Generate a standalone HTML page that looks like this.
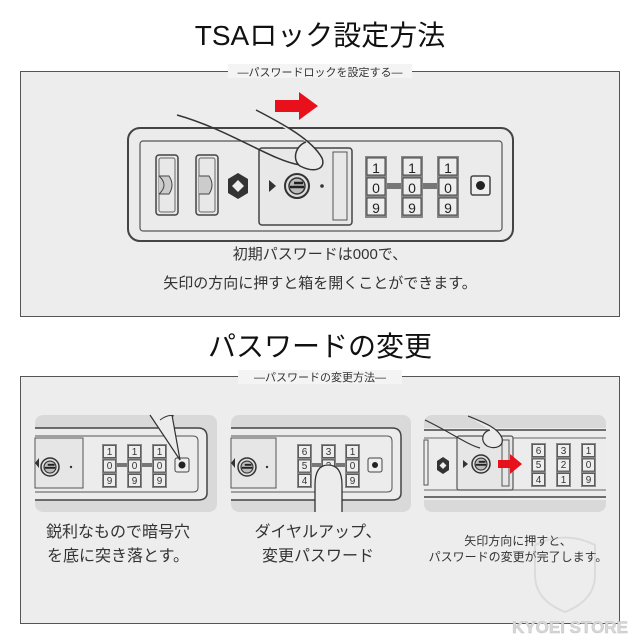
<!DOCTYPE html>
<html><head><meta charset="utf-8">
<style>
html,body{margin:0;padding:0;background:#fff;}
svg{display:block;}
text{font-family:"Liberation Sans","Noto Sans CJK JP",sans-serif;}
</style></head>
<body>
<svg width="640" height="640" viewBox="0 0 640 640" xmlns="http://www.w3.org/2000/svg">
<defs>
  <g id="wheel">
    <rect x="0" y="0" width="22" height="62" fill="#888"/>
    <rect x="2" y="2" width="18" height="17" fill="#eee" stroke="#444" stroke-width="1"/>
    <rect x="2" y="22" width="18" height="17" fill="#eee" stroke="#444" stroke-width="1"/>
    <rect x="2" y="42" width="18" height="17" fill="#eee" stroke="#444" stroke-width="1"/>
  </g>
  <g id="sw">
    <rect x="0" y="0" width="15" height="44" fill="#888"/>
    <rect x="1.5" y="1.5" width="12" height="12" fill="#eee" stroke="#444" stroke-width=".8"/>
    <rect x="1.5" y="16" width="12" height="12" fill="#eee" stroke="#444" stroke-width=".8"/>
    <rect x="1.5" y="30.5" width="12" height="12" fill="#eee" stroke="#444" stroke-width=".8"/>
  </g>
  <g id="key">
    <circle r="12" fill="#ddd" stroke="#333" stroke-width="2"/>
    <circle r="8" fill="#bbb" stroke="#333" stroke-width="1.5"/>
    <path d="M-7 1 h14 M-3 -3 h9" stroke="#222" stroke-width="2.5"/>
  </g>
</defs>

<rect width="640" height="640" fill="#fff"/>

<!-- Title 1 -->
<text x="320" y="45" font-size="28" text-anchor="middle" fill="#111">TSAロック設定方法</text>

<!-- Box 1 -->
<rect x="20.5" y="71.5" width="599" height="245" fill="#ededed" stroke="#555" stroke-width="1"/>
<rect x="228" y="64" width="184" height="14" fill="#f4f4f4"/>
<text x="320" y="76" font-size="11" text-anchor="middle" fill="#333">—パスワードロックを設定する—</text>

<!-- red arrow -->
<path d="M275 100 h24 v-8 l19 14 l-19 14 v-8 h-24z" fill="#e8111b"/>

<!-- lock -->
<rect x="128" y="128" width="385" height="113" rx="12" fill="#ebebeb" stroke="#444" stroke-width="2"/>
<rect x="140" y="141" width="362" height="90" rx="3" fill="none" stroke="#555" stroke-width="1.2"/>
<rect x="156" y="155" width="22" height="60" rx="3" fill="#e8e8e8" stroke="#444" stroke-width="1.5"/>
<rect x="159" y="158" width="16" height="54" rx="2" fill="none" stroke="#666" stroke-width="1"/>
<path d="M159 176 q10 9 0 18 M159 176 h10 q6 9 0 18 h-10" fill="#ccc" stroke="#444" stroke-width="1"/>
<rect x="196" y="155" width="22" height="60" rx="3" fill="#e8e8e8" stroke="#444" stroke-width="1.5"/>
<rect x="199" y="158" width="16" height="54" rx="2" fill="none" stroke="#666" stroke-width="1"/>
<path d="M199 176 h10 q6 9 0 18 h-10" fill="#ccc" stroke="#444" stroke-width="1"/>
<path d="M238 173 l10 6 v14 l-10 6 l-10 -6 v-14z" fill="#333"/>
<path d="M238 180 l6 6 l-6 6 l-6 -6z" fill="#eee"/>
<rect x="259" y="148" width="93" height="77" rx="3" fill="#e8e8e8" stroke="#444" stroke-width="1.5"/>
<rect x="333" y="152" width="14" height="68" fill="none" stroke="#555" stroke-width="1"/>
<path d="M269 180 l7 6 l-7 6z" fill="#333"/>
<use href="#key" x="297" y="186"/>
<circle cx="322" cy="186" r="1.8" fill="#333"/>
<!-- finger -->
<path d="M177 115 C230 130 270 160 300 165" fill="none" stroke="#333" stroke-width="1.5"/>
<path d="M256 110 C285 125 312 140 322 158 C326 168 316 174 300 166 C292 160 295 146 306 142" fill="#ebebeb" stroke="#333" stroke-width="1.5"/>
<!-- wheels -->
<rect x="385" y="183" width="18" height="6" fill="#777"/>
<rect x="421" y="183" width="18" height="6" fill="#777"/>
<use href="#wheel" x="365" y="156"/>
<use href="#wheel" x="401" y="156"/>
<use href="#wheel" x="437" y="156"/>
<g font-size="14" text-anchor="middle" fill="#222">
<text x="376" y="173">1</text><text x="376" y="193">0</text><text x="376" y="213">9</text>
<text x="412" y="173">1</text><text x="412" y="193">0</text><text x="412" y="213">9</text>
<text x="448" y="173">1</text><text x="448" y="193">0</text><text x="448" y="213">9</text>
</g>
<rect x="471" y="176" width="19" height="19" rx="2" fill="#eee" stroke="#444" stroke-width="1.5"/>
<circle cx="480.5" cy="185.5" r="4.5" fill="#222"/>

<text x="320" y="259" font-size="15" text-anchor="middle" fill="#333">初期パスワードは000で、</text>
<text x="320" y="288" font-size="15" text-anchor="middle" fill="#333">矢印の方向に押すと箱を開くことができます。</text>

<!-- Title 2 -->
<text x="320" y="356" font-size="28" text-anchor="middle" fill="#111">パスワードの変更</text>

<!-- Box 2 -->
<rect x="20.5" y="376.5" width="599" height="247" fill="#ededed" stroke="#555" stroke-width="1"/>
<rect x="238" y="370" width="164" height="14" fill="#f4f4f4"/>
<text x="320" y="381" font-size="11" text-anchor="middle" fill="#333">—パスワードの変更方法—</text>

<!-- Panel 1 -->
<g>
<rect x="35" y="415" width="182" height="97" rx="8" fill="#d9d9d9"/>
<path d="M35 428 H198 Q207 428 207 437 V493 Q207 500 198 500 H35" fill="#ececec" stroke="#444" stroke-width="1.5"/>
<path d="M35 436 H193 Q198 436 198 441 V488 Q198 492 193 492 H35" fill="none" stroke="#555" stroke-width="1"/>
<rect x="35" y="438" width="48" height="50" fill="#e6e6e6" stroke="#555" stroke-width="1"/>
<path d="M35 463 l4 -5 v10z" fill="#333"/>
<use href="#key" transform="translate(50 467) scale(.75)"/>
<circle cx="71" cy="467" r="1.2" fill="#333"/>
<rect x="112" y="463" width="55" height="4" fill="#777"/>
<use href="#sw" x="102" y="444"/><use href="#sw" x="127" y="444"/><use href="#sw" x="152" y="444"/>
<g font-size="10" text-anchor="middle" fill="#333">
<text x="109.5" y="455">1</text><text x="109.5" y="469">0</text><text x="109.5" y="484">9</text>
<text x="134.5" y="455">1</text><text x="134.5" y="469">0</text><text x="134.5" y="484">9</text>
<text x="159.5" y="455">1</text><text x="159.5" y="469">0</text><text x="159.5" y="484">9</text>
</g>
<rect x="175" y="458" width="14" height="14" rx="2" fill="#eee" stroke="#444" stroke-width="1"/>
<circle cx="182" cy="465" r="3.5" fill="#222"/>
<path d="M150 415 L180 460 L172 415" fill="#ececec" stroke="#333" stroke-width="1.2"/>
<path d="M160 420 q8 -6 14 -4" fill="none" stroke="#333" stroke-width="1"/>
</g>
<text x="118" y="537" font-size="16" text-anchor="middle" fill="#333">鋭利なもので暗号穴</text>
<text x="118" y="561" font-size="16" text-anchor="middle" fill="#333">を底に突き落とす。</text>

<!-- Panel 2 -->
<g>
<rect x="231" y="415" width="180" height="97" rx="8" fill="#d9d9d9"/>
<path d="M231 428 H392 Q401 428 401 437 V493 Q401 500 392 500 H231" fill="#ececec" stroke="#444" stroke-width="1.5"/>
<path d="M231 436 H387 Q392 436 392 441 V488 Q392 492 387 492 H231" fill="none" stroke="#555" stroke-width="1"/>
<rect x="231" y="438" width="45" height="50" fill="#e6e6e6" stroke="#555" stroke-width="1"/>
<path d="M231 463 l4 -5 v10z" fill="#333"/>
<use href="#key" transform="translate(247 467) scale(.75)"/>
<circle cx="267" cy="467" r="1.2" fill="#333"/>
<rect x="305" y="463" width="55" height="4" fill="#777"/>
<use href="#sw" x="297" y="444"/><use href="#sw" x="321" y="444"/><use href="#sw" x="345" y="444"/>
<g font-size="10" text-anchor="middle" fill="#333">
<text x="304.5" y="455">6</text><text x="304.5" y="469">5</text><text x="304.5" y="484">4</text>
<text x="328.5" y="455">3</text><text x="328.5" y="469">2</text><text x="328.5" y="484">1</text>
<text x="352.5" y="455">1</text><text x="352.5" y="469">0</text><text x="352.5" y="484">9</text>
</g>
<rect x="368" y="458" width="14" height="14" rx="2" fill="#eee" stroke="#444" stroke-width="1"/>
<circle cx="375" cy="465" r="3" fill="#222"/>
<path d="M315 512 V485 Q315 465 328 465 Q342 465 342 485 V512" fill="#ececec" stroke="#333" stroke-width="1.3"/>
</g>
<text x="318" y="537" font-size="16" text-anchor="middle" fill="#333">ダイヤルアップ、</text>
<text x="318" y="561" font-size="16" text-anchor="middle" fill="#333">変更パスワード</text>

<!-- Panel 3 -->
<g>
<rect x="424" y="415" width="182" height="97" rx="8" fill="#d9d9d9"/>
<rect x="424" y="428" width="182" height="72" fill="#ececec"/>
<path d="M424 430 H606 M424 497 H606" stroke="#444" stroke-width="1.5"/>
<path d="M424 438 H606 M424 490 H606" stroke="#666" stroke-width="1"/>
<rect x="424" y="440" width="4" height="45" fill="none" stroke="#555" stroke-width="1"/>
<path d="M443 457 l6 4 v9 l-6 4 l-6 -4 v-9z" fill="#333"/>
<path d="M443 462 l3.5 3.5 l-3.5 3.5 l-3.5 -3.5z" fill="#eee"/>
<rect x="457" y="436" width="56" height="54" rx="2" fill="#e6e6e6" stroke="#555" stroke-width="1.2"/>
<rect x="502" y="440" width="7" height="46" fill="none" stroke="#555" stroke-width="1"/>
<path d="M463 460 l5 4 l-5 4z" fill="#333"/>
<use href="#key" transform="translate(481 464) scale(.75)"/>
<path d="M498 460 h12 v-6 l12 10 l-12 10 v-6 h-12z" fill="#e8111b"/>
<use href="#sw" x="531" y="443"/><use href="#sw" x="556" y="443"/><use href="#sw" x="581" y="443"/>
<g font-size="10" text-anchor="middle" fill="#333">
<text x="538.5" y="454">6</text><text x="538.5" y="468">5</text><text x="538.5" y="483">4</text>
<text x="563.5" y="454">3</text><text x="563.5" y="468">2</text><text x="563.5" y="483">1</text>
<text x="588.5" y="454">1</text><text x="588.5" y="468">0</text><text x="588.5" y="483">9</text>
</g>
<path d="M425 420 C450 432 468 445 480 448" fill="none" stroke="#333" stroke-width="1.2"/>
<path d="M468 416 C485 423 498 428 502 438 C504 446 496 450 487 446 C480 441 482 432 490 430" fill="#ececec" stroke="#333" stroke-width="1.2"/>
</g>
<text x="518" y="545" font-size="12" text-anchor="middle" fill="#333">矢印方向に押すと、</text>
<text x="518" y="561" font-size="12" text-anchor="middle" fill="#333">パスワードの変更が完了します。</text>

<!-- watermark -->
<g opacity="0.35" fill="none" stroke="#bbb" stroke-width="2">
<path d="M535 545 Q565 530 595 545 V575 Q595 600 565 612 Q535 600 535 575z"/>
</g>
<text x="570" y="633" font-size="17" font-weight="bold" text-anchor="middle" fill="#d8d8d8" stroke="#c4c4c4" stroke-width=".5">KYOEI STORE</text>
</svg>
</body></html>
